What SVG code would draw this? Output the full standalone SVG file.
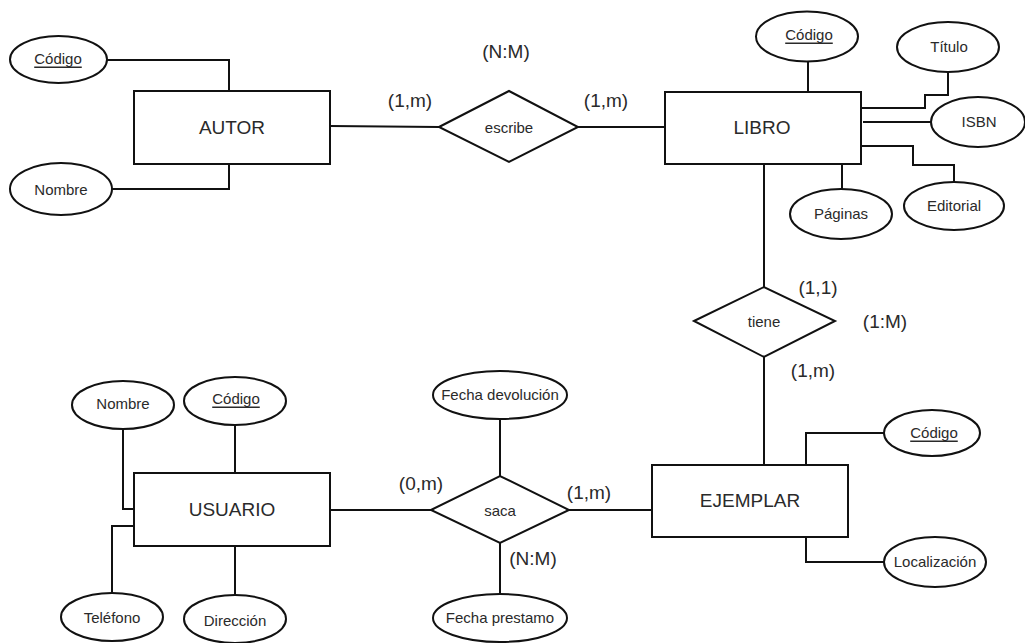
<svg xmlns="http://www.w3.org/2000/svg" width="1025" height="643" viewBox="0 0 1025 643">
<style>
.bg{fill:#ffffff}
.ent{fill:#ffffff;stroke:#111;stroke-width:2}
.rel{fill:#ffffff;stroke:#111;stroke-width:2}
.att{fill:#ffffff;stroke:#111;stroke-width:2}
.ln{fill:none;stroke:#111;stroke-width:2}
text{font-family:"Liberation Sans",Arial,sans-serif;fill:#2a2a2a;text-anchor:middle;dominant-baseline:central}
.et{font-size:19px}
.rt{font-size:15px}
.at{font-size:15px}
.ct{font-size:19px}
.key{text-decoration:underline}
</style>
<rect class="bg" x="0" y="0" width="1025" height="643"/>
<g id="connectors">
<polyline class="ln" points="107,60 229,60 229,91"/>
<polyline class="ln" points="112,189 229,189 229,164"/>
<line class="ln" x1="330" y1="126" x2="439" y2="127"/>
<line class="ln" x1="578" y1="127" x2="666" y2="127"/>
<line class="ln" x1="808" y1="61" x2="808" y2="92"/>
<polyline class="ln" points="948,72 948,95 925,95 925,108 861,108"/>
<line class="ln" x1="863" y1="122" x2="931" y2="122"/>
<polyline class="ln" points="954,182 954,165 913,165 913,146 861,146"/>
<line class="ln" x1="842" y1="164" x2="842" y2="189"/>
<line class="ln" x1="764" y1="164" x2="764" y2="287"/>
<line class="ln" x1="764" y1="357" x2="764" y2="465"/>
<polyline class="ln" points="884,433 806,433 806,465"/>
<polyline class="ln" points="806,537 806,562 884,562"/>
<line class="ln" x1="569" y1="510" x2="653" y2="510"/>
<line class="ln" x1="330" y1="510" x2="431" y2="510"/>
<line class="ln" x1="500" y1="419" x2="500" y2="476"/>
<line class="ln" x1="500" y1="543" x2="500" y2="594"/>
<polyline class="ln" points="123,429 123,509 134,509"/>
<line class="ln" x1="235" y1="425" x2="235" y2="473"/>
<polyline class="ln" points="112,593 112,526 134,526"/>
<line class="ln" x1="235" y1="546" x2="235" y2="596"/>
</g>
<g id="autor"><rect class="ent" x="134" y="91" width="196" height="73"/><text class="et" x="232" y="127">AUTOR</text></g>
<g id="autor-codigo"><ellipse class="att" cx="58.5" cy="59.5" rx="48.5" ry="23.5"/><text class="at key" x="58" y="58">Código</text></g>
<g id="autor-nombre"><ellipse class="att" cx="61" cy="189" rx="51" ry="26"/><text class="at" x="61" y="189">Nombre</text></g>
<g id="escribe"><polygon class="rel" points="439,127 509,91 578,127 509,162"/><text class="rt" x="509" y="127">escribe</text></g>
<g id="libro"><rect class="ent" x="665" y="92" width="196" height="72"/><text class="et" x="762" y="127">LIBRO</text></g>
<g id="libro-codigo"><ellipse class="att" cx="807" cy="36.5" rx="51" ry="25"/><text class="at key" x="809" y="34">Código</text></g>
<g id="libro-titulo"><ellipse class="att" cx="948" cy="47" rx="51" ry="25"/><text class="at" x="949" y="46">Título</text></g>
<g id="libro-isbn"><ellipse class="att" cx="978" cy="122" rx="47" ry="25"/><text class="at" x="979" y="121">ISBN</text></g>
<g id="libro-editorial"><ellipse class="att" cx="954" cy="206" rx="50" ry="24"/><text class="at" x="954" y="205">Editorial</text></g>
<g id="libro-paginas"><ellipse class="att" cx="841" cy="214" rx="51" ry="25"/><text class="at" x="841" y="213">Páginas</text></g>
<g id="tiene"><polygon class="rel" points="694,321 764,287 835,321 764,357"/><text class="rt" x="764" y="321">tiene</text></g>
<g id="ejemplar"><rect class="ent" x="652" y="465" width="196" height="72"/><text class="et" x="750" y="500">EJEMPLAR</text></g>
<g id="ejemplar-codigo"><ellipse class="att" cx="932" cy="433" rx="48" ry="23"/><text class="at key" x="934" y="432">Código</text></g>
<g id="ejemplar-localizacion"><ellipse class="att" cx="935" cy="562" rx="51" ry="25"/><text class="at" x="935" y="561">Localización</text></g>
<g id="saca"><polygon class="rel" points="431,510 500,476 569,510 500,543"/><text class="rt" x="500" y="510">saca</text></g>
<g id="fecha-devolucion"><ellipse class="att" cx="500" cy="395" rx="67" ry="24"/><text class="at" x="500" y="394">Fecha devolución</text></g>
<g id="fecha-prestamo"><ellipse class="att" cx="500" cy="618" rx="67" ry="24"/><text class="at" x="500" y="617">Fecha prestamo</text></g>
<g id="usuario"><rect class="ent" x="134" y="473" width="196" height="73"/><text class="et" x="232" y="509">USUARIO</text></g>
<g id="usuario-nombre"><ellipse class="att" cx="123" cy="405" rx="51" ry="24"/><text class="at" x="123" y="403">Nombre</text></g>
<g id="usuario-codigo"><ellipse class="att" cx="235" cy="401" rx="51" ry="24"/><text class="at key" x="236" y="398">Código</text></g>
<g id="usuario-telefono"><ellipse class="att" cx="112" cy="617" rx="51" ry="24"/><text class="at" x="112" y="617">Teléfono</text></g>
<g id="usuario-direccion"><ellipse class="att" cx="235" cy="619" rx="51" ry="24"/><text class="at" x="235" y="620">Dirección</text></g>
<g id="cardinalities">
<text class="ct" x="506" y="51">(N:M)</text>
<text class="ct" x="410" y="100">(1,m)</text>
<text class="ct" x="606" y="100">(1,m)</text>
<text class="ct" x="818" y="287">(1,1)</text>
<text class="ct" x="885" y="321">(1:M)</text>
<text class="ct" x="813" y="370">(1,m)</text>
<text class="ct" x="421" y="483">(0,m)</text>
<text class="ct" x="589" y="492">(1,m)</text>
<text class="ct" x="533" y="558">(N:M)</text>
</g>
</svg>
